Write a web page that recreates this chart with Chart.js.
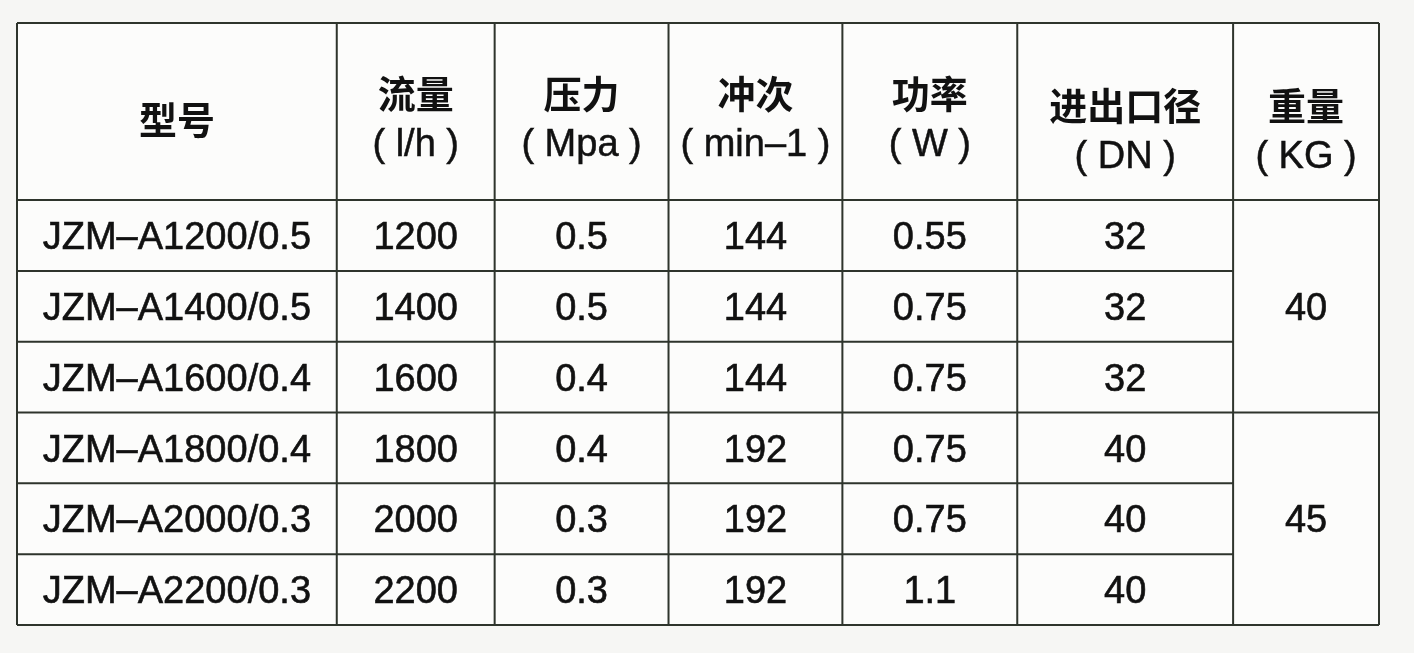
<!DOCTYPE html>
<html>
<head>
<meta charset="utf-8">
<script src="https://cdn.jsdelivr.net/npm/chart.js@4"></script>
<style>
  html, body { margin: 0; padding: 0; background: #f6f6f4; }
  #wrap { width: 1414px; height: 653px; }
</style>
</head>
<body>
<div id="wrap"><canvas id="pumpTable" width="1414" height="653"></canvas></div>
<script>
// table values
const columnNames = ["型号", "流量", "压力", "冲次", "功率", "进出口径", "重量"];
const columnUnits = ["", "( l/h )", "( Mpa )", "( min–1 )", "( W )", "( DN )", "( KG )"];
const models = ["JZM–A1200/0.5", "JZM–A1400/0.5", "JZM–A1600/0.4", "JZM–A1800/0.4", "JZM–A2000/0.3", "JZM–A2200/0.3"];
const flow = [1200, 1400, 1600, 1800, 2000, 2200];
const pressure = ["0.5", "0.5", "0.4", "0.4", "0.3", "0.3"];
const strokes = [144, 144, 144, 192, 192, 192];
const power = ["0.55", "0.75", "0.75", "0.75", "0.75", "1.1"];
const bore = [32, 32, 32, 40, 40, 40];
const weights = [40, 45];
const weightSpans = [3, 3];

// layout (scale units)
const colWidths = [320, 158, 174, 174, 175, 216, 146];
const headerHeight = 2.5;
const nameLineY = [1.37, 1.0, 1.0, 1.0, 1.0, 1.16, 1.16];
const unitLineY = [0, 1.68, 1.68, 1.68, 1.68, 1.86, 1.86];

const colEdges = [0];
colWidths.forEach((w) => colEdges.push(colEdges[colEdges.length - 1] + w));
const colCenter = (c) => (colEdges[c] + colEdges[c + 1]) / 2;
const rowCenter = (r) => headerHeight + r + 0.5;
const totalRows = headerHeight + models.length;

const bodyColumns = [models, flow, pressure, strokes, power, bore];

const datasets = bodyColumns.map((col, c) => ({
  label: columnNames[c],
  data: col.map((v, r) => ({ x: colCenter(c), y: rowCenter(r), text: String(v) })),
  pointRadius: 0,
  pointHoverRadius: 0,
}));

let start = 0;
datasets.push({
  label: columnNames[6],
  data: weights.map((v, i) => {
    const y = headerHeight + start + weightSpans[i] / 2;
    start += weightSpans[i];
    return { x: colCenter(6), y: y, text: String(v) };
  }),
  pointRadius: 0,
  pointHoverRadius: 0,
});

const LINE = "#2e342c";
const INK = "#111111";
const latinFont = (s) => s + "px 'Liberation Sans', Arial, sans-serif";
const cjkFont = (s) => "bold " + s + "px 'Noto Sans CJK SC', sans-serif";

function inkText(ctx, text, x, y) {
  ctx.fillText(text, x, y);
  ctx.strokeText(text, x, y);
}

const tablePlugin = {
  id: "tableGrid",
  beforeDatasetsDraw(chart) {
    const ctx = chart.ctx;
    const xs = chart.scales.x;
    const ys = chart.scales.y;
    const X = (v) => xs.getPixelForValue(v);
    const Y = (v) => ys.getPixelForValue(v);
    ctx.save();
    ctx.fillStyle = "#fcfcfb";
    ctx.fillRect(X(0), Y(0), X(colEdges[7]) - X(0), Y(totalRows) - Y(0));
    ctx.strokeStyle = LINE;
    ctx.lineWidth = 2;
    ctx.beginPath();
    // vertical lines
    colEdges.forEach((e) => {
      ctx.moveTo(X(e), Y(0));
      ctx.lineTo(X(e), Y(totalRows));
    });
    // horizontal lines, weight column merged per group
    const groupEnds = [];
    let acc = 0;
    weightSpans.forEach((s) => { acc += s; groupEnds.push(acc); });
    ctx.moveTo(X(0), Y(0));
    ctx.lineTo(X(colEdges[7]), Y(0));
    for (let r = 0; r <= models.length; r++) {
      const y = Y(headerHeight + r);
      const full = r === 0 || groupEnds.includes(r);
      ctx.moveTo(X(0), y);
      ctx.lineTo(X(full ? colEdges[7] : colEdges[6]), y);
    }
    ctx.stroke();

    // header text
    ctx.fillStyle = INK;
    ctx.strokeStyle = INK;
    ctx.lineWidth = 0.5;
    ctx.textAlign = "center";
    ctx.textBaseline = "alphabetic";
    columnNames.forEach((name, c) => {
      ctx.font = cjkFont(38);
      ctx.fillText(name, X(colCenter(c)), Y(nameLineY[c]) + 38 * 0.38);
      if (columnUnits[c]) {
        ctx.font = latinFont(38);
        inkText(ctx, columnUnits[c], X(colCenter(c)), Y(unitLineY[c]) + 38 * 0.36);
      }
    });
    ctx.restore();
  },
  afterDatasetsDraw(chart) {
    const ctx = chart.ctx;
    ctx.save();
    ctx.fillStyle = INK;
    ctx.strokeStyle = INK;
    ctx.lineWidth = 0.6;
    ctx.textAlign = "center";
    ctx.textBaseline = "alphabetic";
    ctx.font = latinFont(38);
    chart.data.datasets.forEach((ds, i) => {
      const meta = chart.getDatasetMeta(i);
      meta.data.forEach((pt, j) => {
        inkText(ctx, ds.data[j].text, pt.x, pt.y + 38 * 0.36);
      });
    });
    ctx.restore();
  },
};

new Chart(document.getElementById("pumpTable"), {
  type: "scatter",
  data: { datasets: datasets },
  options: {
    responsive: false,
    animation: false,
    layout: { padding: { left: 17, right: 35, top: 23, bottom: 28 } },
    plugins: { legend: { display: false }, tooltip: { enabled: false } },
    scales: {
      x: { type: "linear", display: false, min: 0, max: colEdges[7] },
      y: { type: "linear", display: false, min: 0, max: totalRows, reverse: true },
    },
  },
  plugins: [tablePlugin],
});
</script>
</body>
</html>
